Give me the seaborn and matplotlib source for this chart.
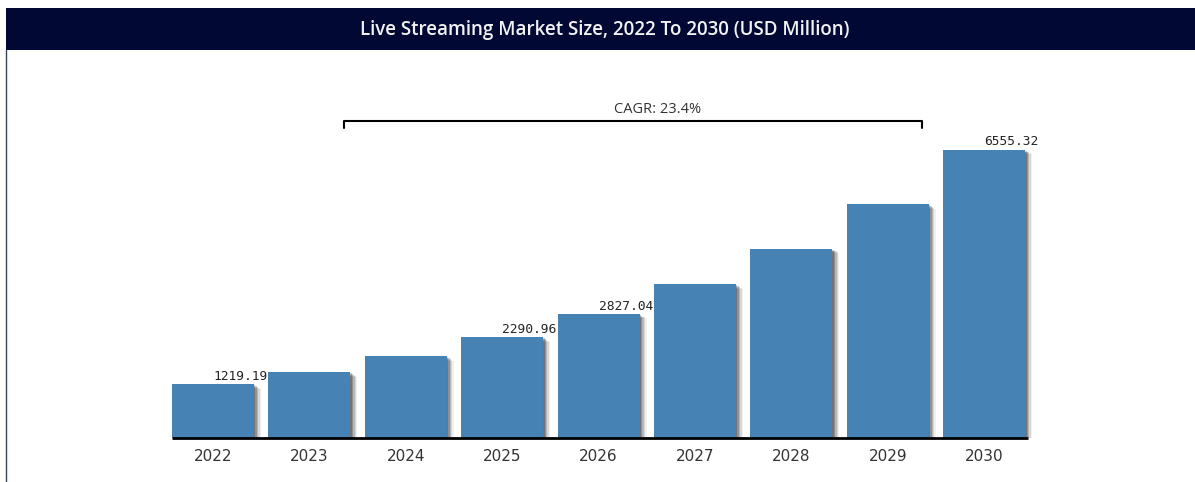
import matplotlib
matplotlib.use("Agg")
import matplotlib.pyplot as plt
import matplotlib.patheffects as pe
from matplotlib.patches import Rectangle
from matplotlib.lines import Line2D
import seaborn as sns
import pandas as pd

years = ["2022", "2023", "2024", "2025", "2026", "2027", "2028", "2029", "2030"]
market_size = [1219.19, 1505.0, 1857.0, 2290.96, 2827.04, 3489.0, 4305.0, 5312.0, 6555.32]
labelled_years = ["2022", "2025", "2026", "2030"]
title = "Live Streaming Market Size, 2022 To 2030 (USD Million)"
cagr_text = "CAGR: 23.4%"

df = pd.DataFrame({"year": years, "size": market_size})

sns.set_theme(style="white")
plt.rcParams["font.family"] = ["DejaVu Sans"]

W, H = 1195, 482
fig = plt.figure(figsize=(W / 100, H / 100), dpi=100)

# header band and left frame line
fig.patches.append(Rectangle((6 / W, (H - 50) / H), (W - 6) / W, 42 / H,
                             transform=fig.transFigure, facecolor="#000833",
                             edgecolor="none", zorder=0))
fig.text(605 / W, (H - 30) / H, title, color="#f2f2f2", ha="center", va="center",
         fontsize=13.5, fontweight="semibold", family="Open Sans")
fig.lines.append(Line2D([6 / W, 6 / W], [0, (H - 50) / H], transform=fig.transFigure,
                        color="#3a3f5c", lw=1))

# plotting area: category i is centred at 213 + 96.4*i px, baseline at 438 px
L, R, top, base = 150, 1060, 100, 438
px_per_unit = 96.4
px_per_value = 44.0 / 1000
ax = fig.add_axes([L / W, (H - base) / H, (R - L) / W, (base - top) / H])
sns.barplot(data=df, x="year", y="size", color="#4682B4", width=0.85,
            saturation=1, ax=ax, zorder=3)

# soft drop shadow built from a few stacked offsets
shadow = [pe.SimplePatchShadow(offset=(o, -o * 0.7), shadow_rgbFace="black", alpha=a)
          for o, a in [(5, 0.06), (4, 0.1), (3, 0.15), (2, 0.2), (1, 0.2)]]
shadow.append(pe.Normal())
for p in ax.patches:
    p.set_path_effects(shadow)
    p.set_edgecolor("none")

ax.set_xlim((L - 213) / px_per_unit, (R - 213) / px_per_unit)
ax.set_ylim(0, (base - top) / px_per_value)
for s in ax.spines.values():
    s.set_visible(False)
ax.set_yticks([])
ax.set_xlabel("")
ax.set_ylabel("")
ax.tick_params(axis="x", length=0, pad=8, labelsize=11, labelcolor="#333333")

# baseline
ax.plot([-0.43, 8.45], [0, 0], color="black", lw=2, zorder=4, clip_on=False,
        solid_capstyle="butt")

# value labels
for i, (y, v) in enumerate(zip(years, market_size)):
    if y in labelled_years:
        ax.text(i, v + 25, f"{v:.2f}", ha="left", va="bottom", fontsize=9.3,
                family="DejaVu Sans Mono", color="#222222", zorder=5)

# CAGR bracket
bx0, bx1 = (344 - 213) / px_per_unit, (922 - 213) / px_per_unit
by = (base - 121) / 44.0 * 1000
tick = 7 / 44.0 * 1000
ax.plot([bx0, bx0, bx1, bx1], [by - tick, by, by, by - tick], color="black",
        lw=1.5, clip_on=False, zorder=5)
ax.text((658 - 213) / px_per_unit, by + 80, cagr_text, ha="center", va="bottom",
        fontsize=10.5, family="Open Sans", color="#333333")

fig.savefig("out.png", dpi=100)
